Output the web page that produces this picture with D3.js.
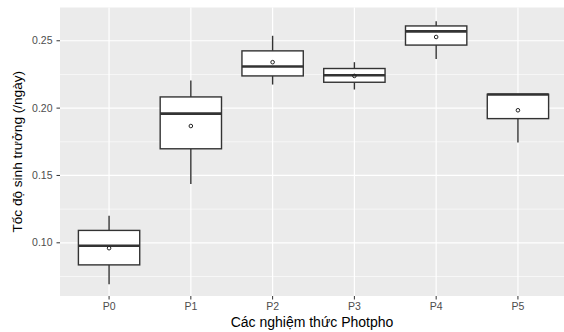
<!DOCTYPE html>
<html>
<head>
<meta charset="utf-8">
<script src="https://cdn.jsdelivr.net/npm/d3@7"></script>
<style>
  body { margin: 0; background: #fff; }
  text { font-family: "Liberation Sans", Arial, sans-serif; }
</style>
</head>
<body>
<script>
var width = 564, height = 332;

// du lieu doc tu hinh
var treatments = ["P0", "P1", "P2", "P3", "P4", "P5"];
var whiskerLow  = [0.0692, 0.1437, 0.2175, 0.2138, 0.2364, 0.1745];
var q1          = [0.0836, 0.1698, 0.2239, 0.2192, 0.2468, 0.1922];
var medians     = [0.0978, 0.1959, 0.2309, 0.2244, 0.2570, 0.2101];
var q3          = [0.1092, 0.2083, 0.2425, 0.2294, 0.2610, 0.2103];
var whiskerHigh = [0.1201, 0.2205, 0.2537, 0.2341, 0.2645, 0.2103];
var means       = [0.0960, 0.1867, 0.2341, 0.2239, 0.2528, 0.1984];
var yTicks = [0.10, 0.15, 0.20, 0.25];
var yMinor = [0.075, 0.125, 0.175, 0.225];

var panel = {left: 60, top: 7.5, right: 567, bottom: 296};

var svg = d3.select("body").append("svg")
    .attr("width", width)
    .attr("height", height);

var x = d3.scalePoint()
    .domain(treatments)
    .range([panel.left + (panel.right - panel.left) * 0.6 / 6.2,
            panel.right - (panel.right - panel.left) * 0.6 / 6.2]);
var step = x.step();

var y = d3.scaleLinear()
    .domain([0.0605, 0.2747])
    .range([panel.bottom, panel.top]);

svg.append("rect")
    .attr("x", panel.left)
    .attr("y", panel.top)
    .attr("width", panel.right - panel.left)
    .attr("height", panel.bottom - panel.top)
    .attr("fill", "#EBEBEB");

// luoi phu
svg.append("g").selectAll("line").data(yMinor).join("line")
    .attr("x1", panel.left).attr("x2", panel.right)
    .attr("y1", d => y(d)).attr("y2", d => y(d))
    .attr("stroke", "#fff").attr("stroke-width", 0.6);

// luoi chinh
svg.append("g").selectAll("line").data(yTicks).join("line")
    .attr("x1", panel.left).attr("x2", panel.right)
    .attr("y1", d => y(d)).attr("y2", d => y(d))
    .attr("stroke", "#fff").attr("stroke-width", 1.2);

svg.append("g").selectAll("line").data(treatments).join("line")
    .attr("x1", d => x(d)).attr("x2", d => x(d))
    .attr("y1", panel.top).attr("y2", panel.bottom)
    .attr("stroke", "#fff").attr("stroke-width", 1.2);

// hop
var boxW = step * 0.75;
var boxes = svg.append("g").selectAll("g").data(treatments).join("g");

boxes.append("line")
    .attr("x1", d => x(d)).attr("x2", d => x(d))
    .attr("y1", (d, i) => y(q3[i])).attr("y2", (d, i) => y(whiskerHigh[i]))
    .attr("stroke", "#333").attr("stroke-width", 1.4);

boxes.append("line")
    .attr("x1", d => x(d)).attr("x2", d => x(d))
    .attr("y1", (d, i) => y(q1[i])).attr("y2", (d, i) => y(whiskerLow[i]))
    .attr("stroke", "#333").attr("stroke-width", 1.4);

boxes.append("rect")
    .attr("x", d => x(d) - boxW / 2)
    .attr("y", (d, i) => y(q3[i]))
    .attr("width", boxW)
    .attr("height", (d, i) => y(q1[i]) - y(q3[i]))
    .attr("fill", "#fff")
    .attr("stroke", "#333").attr("stroke-width", 1.4);

boxes.append("line")
    .attr("x1", d => x(d) - boxW / 2).attr("x2", d => x(d) + boxW / 2)
    .attr("y1", (d, i) => y(medians[i])).attr("y2", (d, i) => y(medians[i]))
    .attr("stroke", "#333").attr("stroke-width", 2.6);

boxes.append("circle")
    .attr("cx", d => x(d))
    .attr("cy", (d, i) => y(means[i]))
    .attr("r", 1.8)
    .attr("fill", "none")
    .attr("stroke", "#222").attr("stroke-width", 1);

// truc
var yAxis = svg.append("g");
yAxis.selectAll("line").data(yTicks).join("line")
    .attr("x1", panel.left - 3.5).attr("x2", panel.left)
    .attr("y1", d => y(d)).attr("y2", d => y(d))
    .attr("stroke", "#333").attr("stroke-width", 1);
yAxis.selectAll("text").data(yTicks).join("text")
    .attr("x", panel.left - 7.5)
    .attr("y", d => y(d))
    .attr("dy", "0.35em")
    .attr("text-anchor", "end")
    .attr("font-size", 10.5)
    .attr("fill", "#4D4D4D")
    .text(d => d.toFixed(2));

var xAxis = svg.append("g");
xAxis.selectAll("line").data(treatments).join("line")
    .attr("x1", d => x(d)).attr("x2", d => x(d))
    .attr("y1", panel.bottom).attr("y2", panel.bottom + 3.5)
    .attr("stroke", "#333").attr("stroke-width", 1);
xAxis.selectAll("text").data(treatments).join("text")
    .attr("x", d => x(d))
    .attr("y", panel.bottom + 14)
    .attr("text-anchor", "middle")
    .attr("font-size", 10.5)
    .attr("fill", "#4D4D4D")
    .text(d => d);

svg.append("text")
    .attr("x", (panel.left + 564) / 2)
    .attr("y", 327)
    .attr("text-anchor", "middle")
    .attr("font-size", 14)
    .attr("fill", "#000")
    .text("Các nghiệm thức Photpho");

svg.append("text")
    .attr("transform", "translate(22," + ((panel.top + panel.bottom) / 2) + ") rotate(-90)")
    .attr("text-anchor", "middle")
    .attr("font-size", 13.6)
    .attr("fill", "#000")
    .text("Tốc độ sinh trưởng (/ngày)");
</script>
</body>
</html>
